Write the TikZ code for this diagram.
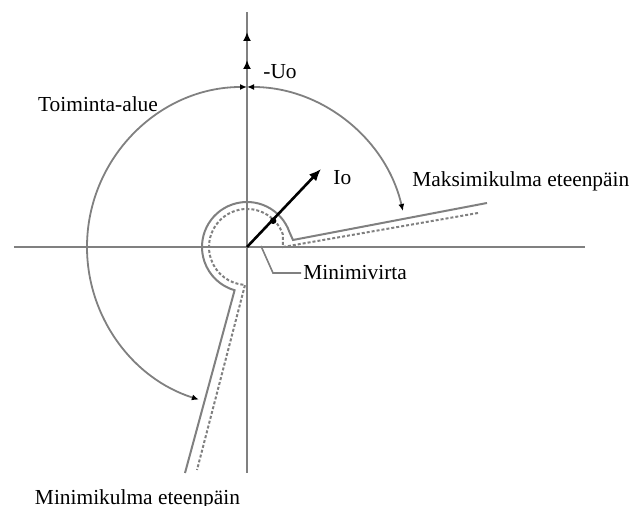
\documentclass[tikz,border=0pt]{standalone}
\usepackage{fontspec}
\setmainfont{Liberation Serif}
\usetikzlibrary{arrows.meta,positioning}
\definecolor{axisgray}{HTML}{808080}
\tikzset{
  axisline/.style={draw=axisgray, line width=1pt},
  contour/.style={draw=axisgray, line width=1pt},
  hystline/.style={draw=axisgray, line width=1pt, dash pattern=on 1.5pt off 1pt},
  rangearc/.style={draw=axisgray, line width=0.9pt, {Latex[length=3.5pt,width=3pt,color=black]}-{Latex[length=3.5pt,width=3pt,color=black]}},
  uarrow/.style={draw=axisgray, line width=1pt, -{Latex[length=4.5pt,width=4pt,color=black]}},
  vecarrow/.style={draw=black, line width=1.3pt, -{Latex[length=6pt,width=5pt]}},
  lbl/.style={font=\fontsize{10.7}{12}\selectfont, inner sep=1pt},
}

\begin{document}
\begin{tikzpicture}[x=0.5pt, y=0.5pt]
  \useasboundingbox (-247,-259) rectangle (390,247);
  \coordinate (O) at (0,0);
  \coordinate (xleft) at (-233,0);
  \coordinate (xright) at (338,0);
  \coordinate (ybot) at (0,-226);
  \coordinate (ytop) at (0,235);
  \coordinate (utip1) at (0,215);
  \coordinate (utip2) at (0,187);
  \coordinate (iotip) at (74,78);
  % axes
  \draw[axisline] (xleft) -- (xright);
  \draw[axisline] (ybot) -- (ytop);
  \draw[uarrow] (O) -- (utip1);
  \draw[uarrow] (O) -- (utip2);
  % operating area, solid and dashed
  \draw[contour] (240,44) -- (46,7) -- (19:45) arc[start angle=19, end angle=254, radius=45] -- (-62,-226);
  \draw[hystline] (231,34) -- (36,0) -- (19:38) arc[start angle=19, end angle=267, radius=38] -- (-50,-223);
  % range arcs
  \draw[rangearc] (90:160) arc[start angle=90, end angle=13, radius=160];
  \draw[rangearc] (90:160) arc[start angle=90, end angle=252.5, radius=160];
  % current vector
  \draw[vecarrow] (O) -- (iotip);
  \fill (45:37) circle (3.2);
  % labels
  \node[lbl, anchor=west] (uo) at (14,175) {-Uo};
  \node[lbl] (toiminta) at (-149,143) {Toiminta-alue};
  \node[lbl, anchor=west] (io) at (84,69) {Io};
  \node[lbl, anchor=west] (maksimi) at (163,66) {Maksimikulma eteenpäin};
  \node[lbl, anchor=west] (minvirta) at (54,-26) {Minimivirta};
  \node[lbl] (minimi) at (-109.5,-252) {Minimikulma eteenpäin};
  \draw[draw=axisgray, line width=0.8pt] (14,1) -- (26,-26) -- (minvirta.west);
\end{tikzpicture}
\end{document}
